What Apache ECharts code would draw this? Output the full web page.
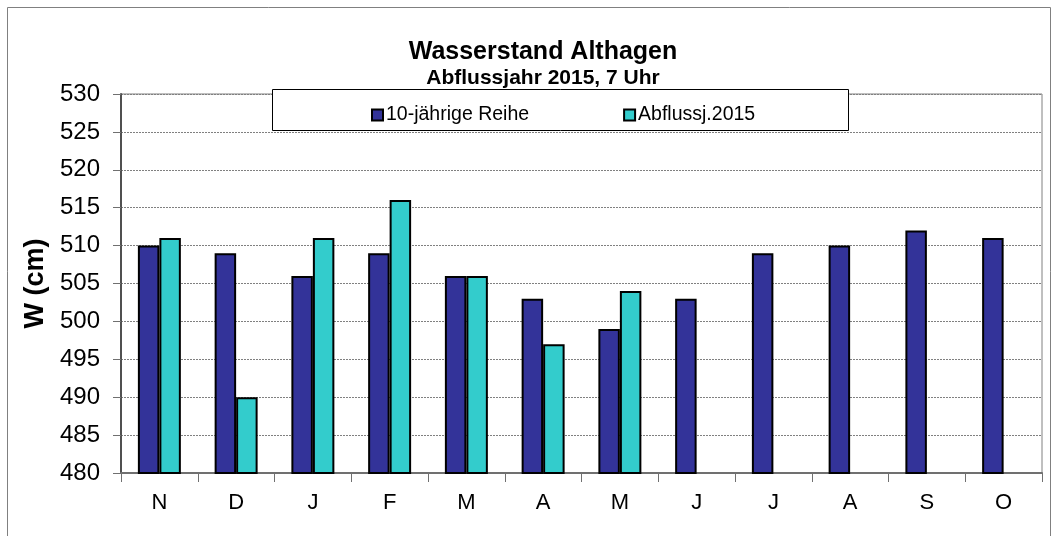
<!DOCTYPE html>
<html>
<head>
<meta charset="utf-8">
<script src="https://cdn.jsdelivr.net/npm/echarts@6/dist/echarts.min.js"></script>
<style>
  html, body { margin: 0; padding: 0; background: #fff; }
  #chart { width: 1058px; height: 536px; }
</style>
</head>
<body>
<div id="chart"></div>
<script>
// Monatsabkürzungen Abflussjahr (Nov - Okt)
const months = ["N", "D", "J", "F", "M", "A", "M", "J", "J", "A", "S", "O"];
const reihe10 = [510, 509, 506, 509, 506, 503, 499, 503, 509, 510, 512, 511];
const abfluss2015 = [511, 490, 511, 516, 506, 497, 504, null, null, null, null, null];
const yTicks = { min: 480, max: 530, interval: 5 };

const chart = echarts.init(document.getElementById("chart"));
const font = "'Liberation Sans', Arial, sans-serif";

const option = {
  animation: false,
  textStyle: { fontFamily: font },
  title: {
    text: "Wasserstand Althagen",
    subtext: "Abflussjahr 2015, 7 Uhr",
    left: 538,
    top: 35,
    textAlign: "center",
    itemGap: 3,
    textStyle: { fontSize: 25, fontWeight: "bold", color: "#000", fontFamily: font },
    subtextStyle: { fontSize: 21, fontWeight: "bold", color: "#000", fontFamily: font }
  },
  graphic: [
    {
      // Rahmen um das Diagramm (links/oben/rechts)
      type: "polyline",
      z: 0,
      shape: { points: [[7.5, 536], [7.5, 7.5], [1050.5, 7.5], [1050.5, 536]] },
      style: { fill: "none", stroke: "#808080", lineWidth: 1 }
    },
    {
      type: "rect",
      z: 20,
      shape: { x: 272.5, y: 89.5, width: 576, height: 41 },
      style: { fill: "#fff", stroke: "#000", lineWidth: 1 }
    }
  ],
  legend: {
    z: 30,
    left: 366,
    top: 100,
    itemGap: 94,
    itemWidth: 11,
    itemHeight: 11,
    icon: "rect",
    textStyle: { fontSize: 19.5, color: "#000", fontFamily: font, padding: [0, 0, 0, -2] },
    data: ["10-jährige Reihe", "Abflussj.2015"]
  },
  grid: {
    left: 121,
    right: 16,
    top: 94,
    bottom: 63,
    show: true,
    borderColor: "#808080",
    borderWidth: 1
  },
  xAxis: {
    type: "category",
    data: months,
    axisLine: { lineStyle: { color: "#707070", width: 2 } },
    axisTick: { show: true, alignWithLabel: false, inside: false, length: 9, lineStyle: { color: "#707070" } },
    axisLabel: { fontSize: 22, color: "#000", margin: 19, fontFamily: font },
    splitLine: { show: false }
  },
  yAxis: {
    type: "value",
    min: yTicks.min,
    max: yTicks.max,
    interval: yTicks.interval,
    name: "W (cm)",
    nameLocation: "middle",
    nameGap: 70,
    nameTextStyle: { fontSize: 27, fontWeight: "bold", color: "#000", fontFamily: font },
    axisLine: { show: true, lineStyle: { color: "#505050", width: 2 } },
    axisTick: { show: true, inside: false, length: 8, lineStyle: { color: "#707070" } },
    axisLabel: { fontSize: 24, color: "#000", margin: 21, fontFamily: font },
    splitLine: { show: true, lineStyle: { color: "#808080", type: [2, 1], width: 1 } }
  },
  series: [
    {
      name: "10-jährige Reihe",
      type: "bar",
      data: reihe10,
      barGap: "0%",
      barCategoryGap: "44%",
      itemStyle: { color: "#333399", borderColor: "#000", borderWidth: 2 }
    },
    {
      name: "Abflussj.2015",
      type: "bar",
      data: abfluss2015,
      itemStyle: { color: "#33CCCC", borderColor: "#000", borderWidth: 2 }
    }
  ]
};

option && chart.setOption(option);
</script>
</body>
</html>
